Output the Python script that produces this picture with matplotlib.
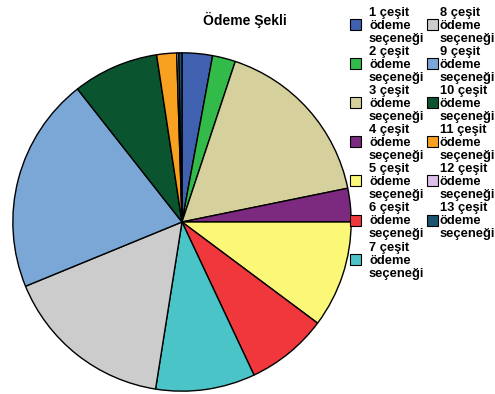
import matplotlib
matplotlib.use("Agg")
import matplotlib.pyplot as plt
from matplotlib.patches import Rectangle

plt.rcParams['font.family'] = ['Liberation Sans', 'DejaVu Sans']

labels = [f"{i} çeşit ödeme seçeneği" for i in range(1, 14)]
shares = [2.9, 2.2, 16.7, 3.2, 10.2, 7.8, 9.5, 16.3, 20.6, 8.2, 1.9, 0.2, 0.3]
colors = ["#4060b0", "#33bb4a", "#d6d09c", "#7b2a7f", "#fbf877", "#f0373c",
          "#4bc4c8", "#cccccc", "#7ba7d7", "#0b5430", "#f8a020", "#dcc0ea",
          "#1b5570"]
title = "Ödeme Şekli"

W, H = 495, 394
fig = plt.figure(figsize=(W / 100, H / 100), dpi=100)

cx, cy, r = 182, 222, 170
ax = fig.add_axes([(cx - r) / W, (H - cy - r) / H, 2 * r / W, 2 * r / H])
ax.pie(shares, colors=colors, startangle=90, counterclock=False, radius=1,
       wedgeprops=dict(edgecolor="black", linewidth=1.0))
ax.set_xlim(-1.005, 1.005)
ax.set_ylim(-1.005, 1.005)
ax.set_aspect("equal")
ax.axis("off")

fig.text(245 / W, 1 - 25 / H, title, fontsize=10, fontweight="bold",
         ha="center", va="baseline")

# two-column legend, 7 entries in the first column
line_h = 13.0
entry_h = 39.1
col_x = [(350, 369), (427, 440)]
y0 = 16.0
for i, lab in enumerate(labels):
    col, row = divmod(i, 7)
    mx, tx = col_x[col]
    base = y0 + row * entry_h
    words = [f"{i + 1} çeşit", "ödeme", "seçeneği"]
    for k, w in enumerate(words):
        fig.text(tx / W, 1 - (base + k * line_h) / H, w, fontsize=9.3,
                 fontweight="bold", ha="left", va="baseline")
    mid = base + line_h - 4.5
    sz = 11
    fig.add_artist(Rectangle((mx / W, 1 - (mid + sz / 2) / H), sz / W, sz / H,
                             transform=fig.transFigure, facecolor=colors[i],
                             edgecolor="black", linewidth=0.8))

fig.savefig("out.png", dpi=100)
